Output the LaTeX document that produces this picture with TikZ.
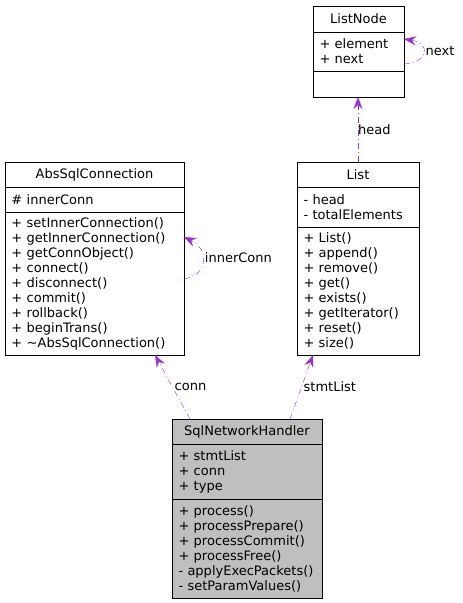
\documentclass[tikz,border=0pt]{standalone}
\usepackage{fontspec}
\setmainfont{DejaVu Sans}
\usepackage{tikz}
\usetikzlibrary{arrows.meta, positioning}

\definecolor{relcolor}{HTML}{9A32CD}
\definecolor{mainfill}{HTML}{BFBFBF}

\begin{document}
\begin{tikzpicture}[x=1pt, y=-1pt]
    % Default look of every text and class compartment
    \tikzstyle{every node}=[font=\fontsize{13}{15}\selectfont];
    \tikzstyle{part}=[draw, rectangle, fill=white, inner xsep=6.5pt, inner ysep=2pt, outer sep=0pt, align=left];
    \tikzstyle{title}=[part, align=center, minimum height=25pt];
    \tikzstyle{rel}=[relcolor, dash pattern=on 6pt off 3pt on 1pt off 3pt, -{Stealth[length=12pt, width=9pt, inset=4pt]}];
    \tikzstyle{lbl}=[anchor=west, inner sep=2pt, text=black];

    \useasboundingbox [fill=white] (0,0) rectangle (463,603);

    % ListNode
    \node [title, text width=78pt, minimum height=26pt, anchor=north west] (lnT) at (313,6) {ListNode};
    \node [part, text width=78pt, minimum height=39pt] (lnA) [below=0pt of lnT] {+ element\\+ next};
    \node [part, text width=78pt, minimum height=26pt] (lnM) [below=0pt of lnA] {};

    % AbsSqlConnection
    \node [title, text width=166pt, anchor=north west] (absT) at (5,162) {AbsSqlConnection};
    \node [part, text width=166pt, minimum height=25pt] (absA) [below=0pt of absT] {\# innerConn};
    \node [part, text width=166pt, minimum height=143pt] (absM) [below=0pt of absA]
        {+ setInnerConnection()\\+ getInnerConnection()\\+ getConnObject()\\+ connect()\\+ disconnect()\\+ commit()\\+ rollback()\\+ beginTrans()\\+ \textasciitilde AbsSqlConnection()};

    % List
    \node [title, text width=109pt, anchor=north west] (listT) at (297,162) {List};
    \node [part, text width=109pt, minimum height=40pt] (listA) [below=0pt of listT] {- head\\- totalElements};
    \node [part, text width=109pt, minimum height=128pt] (listM) [below=0pt of listA]
        {+ List()\\+ append()\\+ remove()\\+ get()\\+ exists()\\+ getIterator()\\+ reset()\\+ size()};

    % SqlNetworkHandler
    \node [title, fill=mainfill, text width=137pt, anchor=north west] (sqlT) at (172,419) {SqlNetworkHandler};
    \node [part, fill=mainfill, text width=137pt, minimum height=55pt] (sqlA) [below=0pt of sqlT] {+ stmtList\\+ conn\\+ type};
    \node [part, fill=mainfill, text width=137pt, minimum height=99pt] (sqlM) [below=0pt of sqlA]
        {+ process()\\+ processPrepare()\\+ processCommit()\\+ processFree()\\- applyExecPackets()\\- setParamValues()};

    % Relations
    \draw [rel] ([xshift=18pt]sqlT.north west) -- node [lbl] {conn} ([xshift=150pt]absM.south west);
    \draw [rel] ([xshift=118pt]sqlT.north west) -- node [lbl] {stmtList} ([xshift=16pt]listM.south west);
    \draw [rel] ([xshift=61pt]listT.north west) -- node [lbl, xshift=-2pt] {head} ([xshift=45pt]lnM.south west);
    \draw [rel] ([yshift=-12.5pt]lnA.east) .. controls +(26,-2) and +(26,4) .. node [lbl, yshift=1pt] {next} ([yshift=12.5pt]lnA.east);
    \draw [rel] ([yshift=4.5pt]absM.east) .. controls +(25,-4) and +(25,12) .. node [lbl, yshift=3pt] {innerConn} ([yshift=46.5pt]absM.east);
\end{tikzpicture}
\end{document}
